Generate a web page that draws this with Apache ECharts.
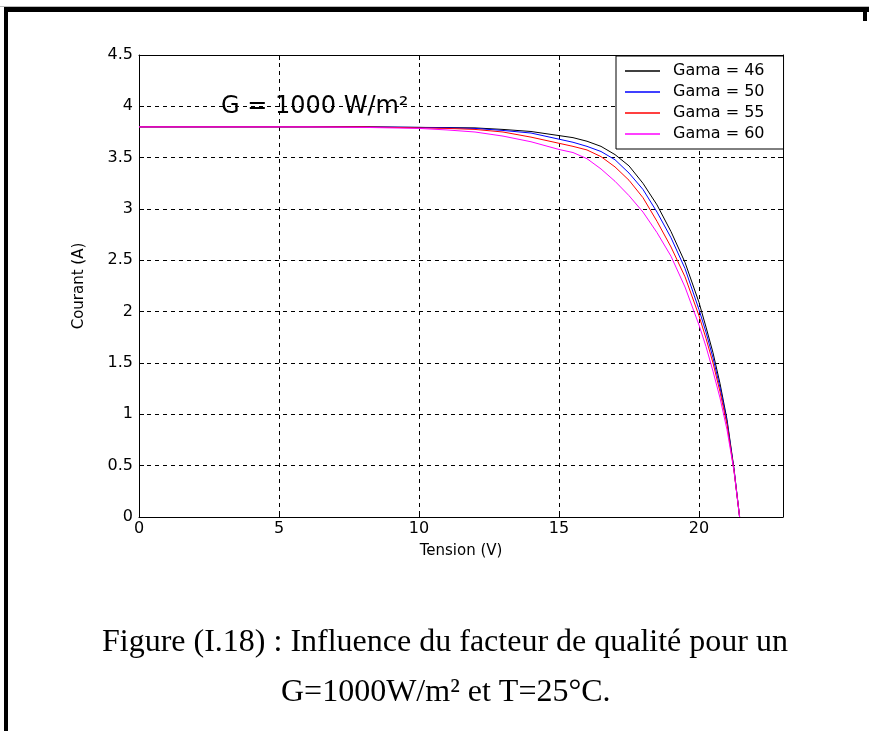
<!DOCTYPE html>
<html>
<head>
<meta charset="utf-8">
<script src="https://cdn.jsdelivr.net/npm/echarts@6/dist/echarts.min.js"></script>
<style>
html,body{margin:0;padding:0;background:#fff;}
#c{width:869px;height:731px;}
</style>
</head>
<body>
<div id="c"></div>
<script>
// Tension (V) sample points
var tension = [0, 2, 4, 6, 8, 10, 11, 12, 13, 14, 15, 15.5, 16, 16.5, 17, 17.5, 18, 18.5, 19, 19.5, 20, 20.25, 20.5, 20.75, 21, 21.25, 21.45];
// Courant (A) for each quality factor
var gama46 = [3.8, 3.8, 3.8, 3.8, 3.8, 3.795, 3.793, 3.79, 3.775, 3.755, 3.715, 3.695, 3.66, 3.61, 3.53, 3.42, 3.25, 3.04, 2.78, 2.48, 2.09, 1.85, 1.6, 1.3, 0.95, 0.47, 0];
var gama50 = [3.8, 3.8, 3.8, 3.8, 3.8, 3.795, 3.79, 3.785, 3.765, 3.74, 3.68, 3.65, 3.61, 3.56, 3.48, 3.35, 3.19, 2.97, 2.72, 2.42, 2.02, 1.8, 1.55, 1.26, 0.93, 0.46, 0];
var gama55 = [3.8, 3.8, 3.8, 3.8, 3.8, 3.79, 3.785, 3.775, 3.75, 3.70, 3.64, 3.61, 3.575, 3.51, 3.41, 3.28, 3.11, 2.88, 2.63, 2.34, 1.96, 1.74, 1.5, 1.22, 0.9, 0.45, 0];
var gama60 = [3.8, 3.8, 3.8, 3.8, 3.795, 3.785, 3.77, 3.75, 3.71, 3.655, 3.58, 3.55, 3.49, 3.39, 3.27, 3.13, 2.97, 2.77, 2.54, 2.24, 1.87, 1.66, 1.42, 1.16, 0.85, 0.45, 0];
var seriesNames = ['Gama = 46', 'Gama = 50', 'Gama = 55', 'Gama = 60'];
var seriesColors = ['#000000', '#0000ff', '#ff0000', '#ff00ff'];
var xTicks = {min: 0, max: 23, interval: 5};
var yTicks = {min: 0, max: 4.5, interval: 0.5};
var annotation = 'G = 1000 W/m\u00b2';
var caption1 = 'Figure (I.18) : Influence du facteur de qualit\u00e9 pour un';
var caption2 = 'G=1000W/m\u00b2 et T=25\u00b0C.';

function pairs(ys){ return tension.map(function(v,i){ return [v, ys[i]]; }); }
var allY = [gama46, gama50, gama55, gama60];

var font = 'DejaVu Sans';
var chart = echarts.init(document.getElementById('c'), null, {renderer:'canvas'});
var series = allY.map(function(ys, k){
  return {
    name: seriesNames[k], type: 'line', data: pairs(ys),
    showSymbol: false, symbol: 'none', smooth: false,
    lineStyle: {color: seriesColors[k], width: 1},
    itemStyle: {color: seriesColors[k]},
    animation: false, z: 3 + k
  };
});

var option = {
  backgroundColor: '#ffffff',
  animation: false,
  title: [
    {text: annotation, left: 216, top: 90, textStyle: {fontFamily: font, fontSize: 24, fontWeight: 'normal', color: '#000'}},
    {text: caption1, left: 97, top: 622, textStyle: {fontFamily: 'Liberation Serif', fontSize: 32, fontWeight: 'normal', color: '#000'}},
    {text: caption2, left: 276, top: 672, textStyle: {fontFamily: 'Liberation Serif', fontSize: 32, fontWeight: 'normal', color: '#000'}}
  ],
  grid: {left: 139, top: 55, width: 644, height: 462, show: false},
  legend: {
    orient: 'vertical', left: 616, top: 56,
    data: seriesNames,
    icon: 'rect', itemWidth: 35, itemHeight: 1.5, itemGap: 5,
    padding: [7, 19, 7, 9],
    backgroundColor: '#fff', borderColor: '#000', borderWidth: 1, borderRadius: 0,
    textStyle: {fontFamily: font, fontSize: 16, lineHeight: 16, color: '#000', padding: [0, 0, 0, 8]},
    z: 10
  },
  xAxis: [
    {type: 'value', min: xTicks.min, max: xTicks.max, interval: xTicks.interval, position: 'bottom',
     name: 'Tension (V)', nameLocation: 'middle', nameGap: 27,
     nameTextStyle: {fontFamily: font, fontSize: 15, color: '#000'},
     axisLine: {show: true, onZero: false, lineStyle: {color: '#000', width: 1}},
     axisTick: {show: true, inside: true, length: 5, lineStyle: {color: '#000'}},
     axisLabel: {fontFamily: font, fontSize: 16, color: '#000', margin: 4, showMaxLabel: false},
     splitLine: {show: true, lineStyle: {color: '#000', type: [4, 4], width: 1}}},
    {type: 'value', min: xTicks.min, max: xTicks.max, interval: xTicks.interval, position: 'top',
     axisLine: {show: true, onZero: false, lineStyle: {color: '#000', width: 1}},
     axisTick: {show: true, inside: true, length: 5, lineStyle: {color: '#000'}},
     axisLabel: {show: false}, splitLine: {show: false}}
  ],
  yAxis: [
    {type: 'value', min: yTicks.min, max: yTicks.max, interval: yTicks.interval, position: 'left',
     name: 'Courant (A)', nameLocation: 'middle', nameGap: 52,
     nameTextStyle: {fontFamily: font, fontSize: 15, color: '#000'},
     axisLine: {show: true, onZero: false, lineStyle: {color: '#000', width: 1}},
     axisTick: {show: true, inside: true, length: 5, lineStyle: {color: '#000'}},
     axisLabel: {fontFamily: font, fontSize: 16, color: '#000', margin: 6},
     splitLine: {show: true, lineStyle: {color: '#000', type: [4, 4], width: 1}}},
    {type: 'value', min: yTicks.min, max: yTicks.max, interval: yTicks.interval, position: 'right',
     axisLine: {show: true, onZero: false, lineStyle: {color: '#000', width: 1}},
     axisTick: {show: true, inside: true, length: 5, lineStyle: {color: '#000'}},
     axisLabel: {show: false}, splitLine: {show: false}}
  ],
  series: series,
  graphic: [
    {type: 'rect', shape: {x: 0, y: 6, width: 869, height: 1}, style: {fill: '#bbbbbb'}, silent: true},
    {type: 'rect', shape: {x: 4, y: 7, width: 865, height: 5}, style: {fill: '#000'}, silent: true},
    {type: 'rect', shape: {x: 4, y: 7, width: 4, height: 724}, style: {fill: '#000'}, silent: true},
    {type: 'rect', shape: {x: 863, y: 7, width: 4, height: 14}, style: {fill: '#000'}, silent: true}
  ]
};
chart.setOption(option);
</script>
</body>
</html>
